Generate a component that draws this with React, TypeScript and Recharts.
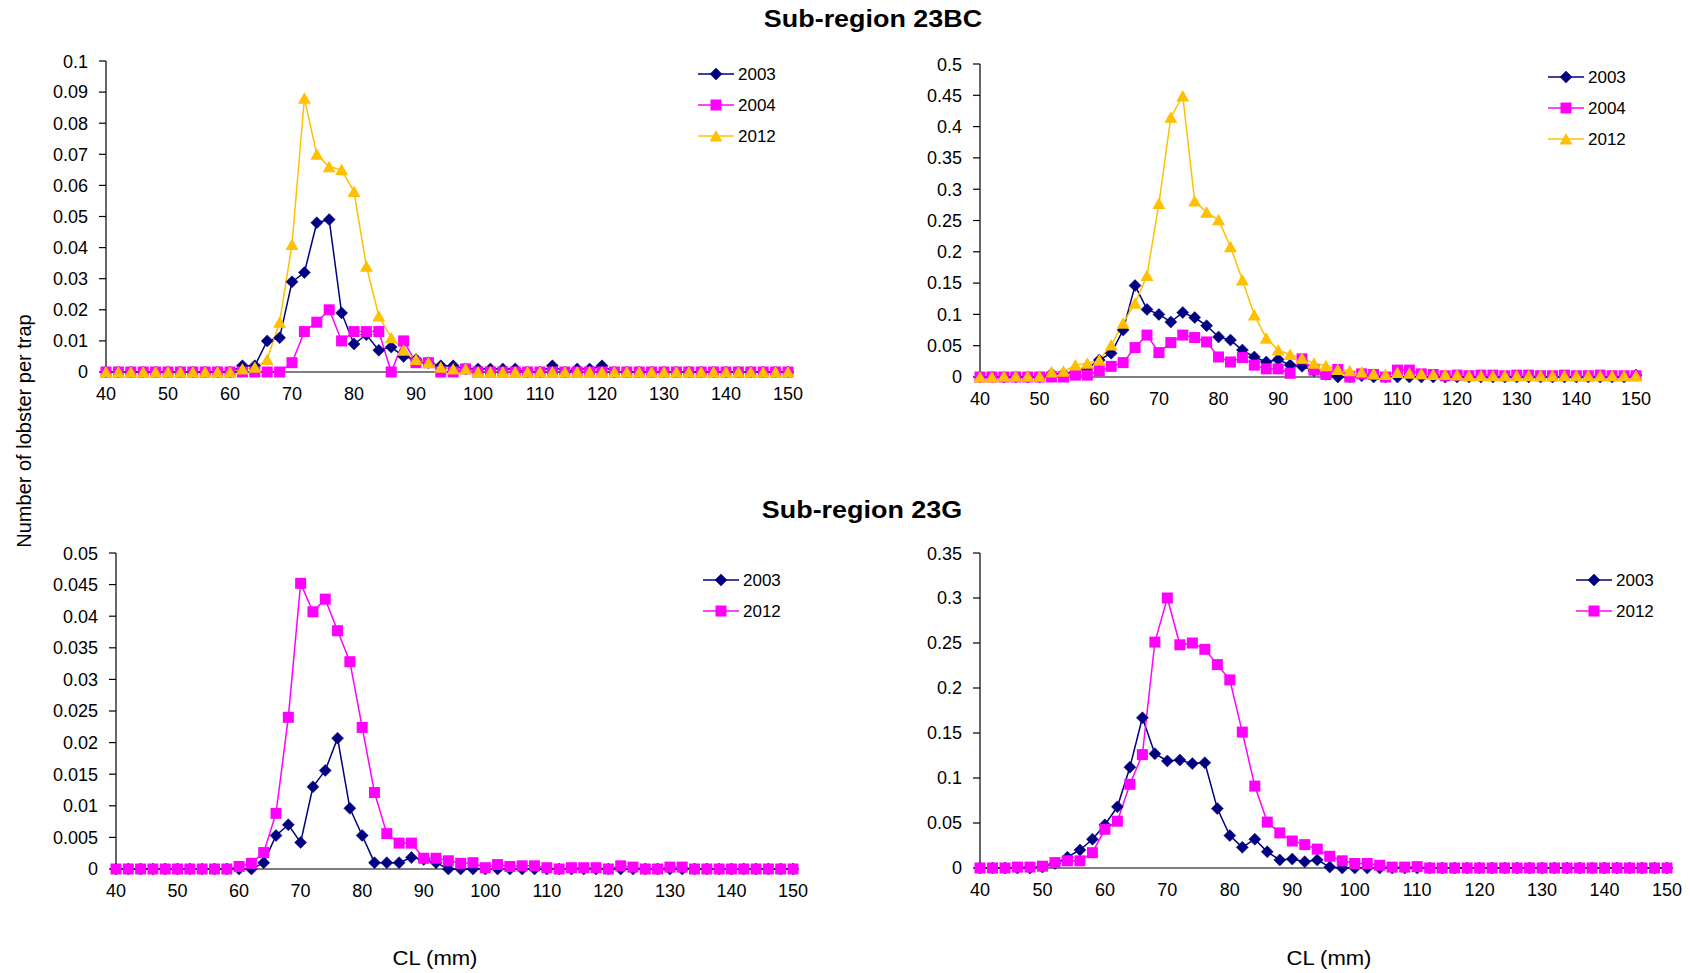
import { LineChart, Line, XAxis, YAxis, Legend } from "recharts";

// carapace length classes (mm)
const CL = [
  40, 42, 44, 46, 48, 50, 52, 54, 56, 58,
  60, 62, 64, 66, 68, 70, 72, 74, 76, 78,
  80, 82, 84, 86, 88, 90, 92, 94, 96, 98,
  100, 102, 104, 106, 108, 110, 112, 114, 116, 118,
  120, 122, 124, 126, 128, 130, 132, 134, 136, 138,
  140, 142, 144, 146, 148, 150,
];

const X_TICKS = [40, 50, 60, 70, 80, 90, 100, 110, 120, 130, 140, 150];

// Sub-region 23BC, left panel
const BC_LEFT_2003 = [
  0, 0, 0, 0, 0, 0, 0, 0, 0, 0,
  0, 0.002, 0.002, 0.01, 0.011, 0.029, 0.032, 0.048, 0.049, 0.019,
  0.009, 0.012, 0.007, 0.008, 0.005, 0.004, 0.003, 0.002, 0.002, 0.001,
  0.001, 0.001, 0.001, 0.001, 0, 0, 0.002, 0, 0.001, 0.001,
  0.002, 0, 0, 0, 0, 0, 0, 0, 0, 0,
  0, 0, 0, 0, 0, 0,
];
const BC_LEFT_2004 = [
  0, 0, 0, 0, 0, 0, 0, 0, 0, 0,
  0, 0, 0, 0, 0, 0.003, 0.013, 0.016, 0.02, 0.01,
  0.013, 0.013, 0.013, 0, 0.01, 0.003, 0.003, 0, 0, 0.001,
  0, 0, 0, 0, 0, 0, 0, 0, 0, 0,
  0, 0, 0, 0, 0, 0, 0, 0, 0, 0,
  0, 0, 0, 0, 0, 0,
];
const BC_LEFT_2012 = [
  0, 0, 0, 0, 0, 0, 0, 0, 0, 0,
  0, 0.001, 0.0015, 0.004, 0.016, 0.041, 0.088, 0.07, 0.066, 0.065,
  0.058, 0.034, 0.018, 0.011, 0.007, 0.004, 0.003, 0.0015, 0.001, 0.001,
  0, 0, 0, 0, 0, 0, 0, 0, 0, 0,
  0, 0, 0, 0, 0, 0, 0, 0, 0, 0,
  0, 0, 0, 0, 0, 0,
];

// Sub-region 23BC, right panel
const BC_RIGHT_2003 = [
  0, 0, 0, 0, 0, 0, 0.005, 0.005, 0.008, 0.014,
  0.027, 0.038, 0.075, 0.146, 0.108, 0.1, 0.088, 0.103, 0.095, 0.082,
  0.064, 0.059, 0.043, 0.032, 0.024, 0.028, 0.019, 0.017, 0.01, 0.004,
  0, 0, 0.002, 0, 0, 0, 0, 0, 0, 0,
  0, 0, 0, 0, 0, 0, 0, 0, 0, 0,
  0, 0, 0, 0, 0, 0.003,
];
const BC_RIGHT_2004 = [
  0, 0, 0, 0, 0, 0, 0, 0, 0.003, 0.003,
  0.01, 0.017, 0.023, 0.047, 0.067, 0.039, 0.055, 0.067, 0.063, 0.056,
  0.032, 0.024, 0.031, 0.019, 0.013, 0.013, 0.006, 0.029, 0.011, 0.004,
  0.012, 0, 0.005, 0.004, 0, 0.011, 0.011, 0.005, 0.004, 0.002,
  0.003, 0.002, 0.003, 0.003, 0.002, 0.003, 0.003, 0.002, 0.002, 0.003,
  0.002, 0.002, 0.003, 0.002, 0.002, 0.002,
];
const BC_RIGHT_2012 = [
  0, 0, 0.001, 0.001, 0.001, 0.001, 0.008, 0.009, 0.019, 0.022,
  0.027, 0.051, 0.086, 0.118, 0.162, 0.277, 0.415, 0.449, 0.281, 0.263,
  0.251, 0.208, 0.155, 0.099, 0.062, 0.043, 0.036, 0.03, 0.022, 0.018,
  0.012, 0.01, 0.008, 0.005, 0.004, 0.007, 0.006, 0.005, 0.004, 0.004,
  0.003, 0.002, 0.002, 0.002, 0.002, 0.002, 0.002, 0.002, 0.002, 0.002,
  0.002, 0.002, 0.002, 0.002, 0.002, 0.002,
];

// Sub-region 23G, left panel
const G_LEFT_2003 = [
  0, 0, 0, 0, 0, 0, 0, 0, 0, 0,
  0, 0, 0.001, 0.0053, 0.007, 0.0042, 0.013, 0.0156, 0.0207, 0.0096,
  0.0053, 0.001, 0.001, 0.001, 0.0018, 0.0015, 0.001, 0, 0, 0,
  0, 0, 0, 0, 0, 0, 0, 0, 0, 0,
  0, 0, 0, 0, 0, 0, 0, 0, 0, 0,
  0, 0, 0, 0, 0, 0,
];
const G_LEFT_2012 = [
  0, 0, 0, 0, 0, 0, 0, 0, 0, 0,
  0.0004, 0.0009, 0.0026, 0.0088, 0.024, 0.0452, 0.0407, 0.0427, 0.0377, 0.0328,
  0.0224, 0.0121, 0.0056, 0.0041, 0.0041, 0.0017, 0.0017, 0.0013, 0.0009, 0.001,
  0.0002, 0.0007, 0.0004, 0.0005, 0.0005, 0.0002, 0, 0.0002, 0.0002, 0.0002,
  0, 0.0005, 0.0003, 0, 0, 0.0003, 0.0003, 0, 0, 0,
  0, 0, 0, 0, 0, 0,
];

// Sub-region 23G, right panel
const G_RIGHT_2003 = [
  0, 0, 0, 0, 0, 0.001, 0.005, 0.012, 0.02, 0.032,
  0.048, 0.068, 0.112, 0.167, 0.127, 0.119, 0.12, 0.116, 0.117, 0.066,
  0.036, 0.023, 0.032, 0.018, 0.009, 0.01, 0.007, 0.009, 0.001, 0,
  0, 0, 0, 0, 0, 0, 0, 0, 0, 0,
  0, 0, 0, 0, 0, 0, 0, 0, 0, 0,
  0, 0, 0, 0, 0, 0,
];
const G_RIGHT_2012 = [
  0, 0, 0, 0.001, 0.001, 0.002, 0.006, 0.008, 0.008, 0.017,
  0.043, 0.052, 0.093, 0.126, 0.251, 0.3, 0.248, 0.25, 0.243, 0.226,
  0.209, 0.151, 0.091, 0.051, 0.039, 0.03, 0.026, 0.021, 0.013, 0.008,
  0.005, 0.005, 0.003, 0.001, 0.001, 0.0015, 0, 0, 0, 0,
  0, 0, 0, 0, 0, 0, 0, 0, 0, 0,
  0, 0, 0, 0, 0, 0,
];

const Y_TICKS_BC_LEFT = [0, 0.01, 0.02, 0.03, 0.04, 0.05, 0.06, 0.07, 0.08, 0.09, 0.1];
const Y_TICKS_BC_RIGHT = [0, 0.05, 0.1, 0.15, 0.2, 0.25, 0.3, 0.35, 0.4, 0.45, 0.5];
const Y_TICKS_G_LEFT = [0, 0.005, 0.01, 0.015, 0.02, 0.025, 0.03, 0.035, 0.04, 0.045, 0.05];
const Y_TICKS_G_RIGHT = [0, 0.05, 0.1, 0.15, 0.2, 0.25, 0.3, 0.35];

const NAVY = "#000080";
const MAGENTA = "#FF00FF";
const GOLD = "#FFC000";
const FONT = "'Liberation Sans', Arial, sans-serif";

type Marker = "diamond" | "square" | "triangle";
type Series = { key: string; name: string; color: string; marker: Marker; values: number[] };

function drawMarker(marker: Marker, color: string, cx: number, cy: number, key?: string) {
  if (cx == null || cy == null || isNaN(cx) || isNaN(cy)) return <g key={key} />;
  if (marker === "diamond") {
    const r = 6;
    return (
      <path key={key} d={`M${cx},${cy - r}L${cx + r},${cy}L${cx},${cy + r}L${cx - r},${cy}Z`} fill={color} stroke={color} strokeWidth={0.5} />
    );
  }
  if (marker === "square") {
    return <rect key={key} x={cx - 5.5} y={cy - 5.5} width={11} height={11} fill={color} />;
  }
  return (
    <path key={key} d={`M${cx},${cy - 6}L${cx + 6.5},${cy + 5.5}L${cx - 6.5},${cy + 5.5}Z`} fill={color} />
  );
}

function legendContent(series: Series[]) {
  return () => (
    <svg width={110} height={series.length * 31} style={{ overflow: "visible", display: "block" }}>
      {series.map((s, i) => {
        const y = 15 + i * 31;
        return (
          <g key={s.key}>
            <line x1={0} x2={36} y1={y} y2={y} stroke={s.color} strokeWidth={1.5} />
            {drawMarker(s.marker, s.color, 18, y)}
            <text x={40} y={y} dy="0.355em" fontSize={17} fill="#000" fontFamily={FONT}>
              {s.name}
            </text>
          </g>
        );
      })}
    </svg>
  );
}

type PanelProps = {
  left: number;
  top: number;
  width: number;
  height: number;
  yMax: number;
  yTicks: number[];
  series: Series[];
  legendLeft: number;
  legendTop: number;
};

function Panel({ left, top, width, height, yMax, yTicks, series, legendLeft, legendTop }: PanelProps) {
  const data = CL.map((cl, i) => {
    const row: Record<string, number> = { cl };
    series.forEach((s) => {
      row[s.key] = s.values[i];
    });
    return row;
  });

  return (
    <div style={{ position: "absolute", left, top }}>
      <LineChart width={width} height={height} data={data} margin={{ top: 10, right: 20, bottom: 0, left: 0 }}>
        <XAxis
          dataKey="cl"
          type="number"
          domain={[40, 150]}
          ticks={X_TICKS}
          height={40}
          axisLine={{ stroke: "#000", strokeWidth: 1.2 }}
          tickLine={false}
          tickSize={6}
          tickMargin={9}
          tick={{ fill: "#000", fontSize: 18 }}
        />
        <YAxis
          type="number"
          domain={[0, yMax]}
          ticks={yTicks}
          width={70}
          axisLine={{ stroke: "#000", strokeWidth: 1.2 }}
          tickLine={{ stroke: "#000", strokeWidth: 1.2 }}
          tickSize={7}
          tickMargin={11}
          tick={{ fill: "#000", fontSize: 18 }}
        />
        <Legend
          layout="vertical"
          align="center"
          verticalAlign="middle"
          content={legendContent(series)}
          wrapperStyle={{ left: legendLeft, top: legendTop, width: 110 }}
        />
        {series.map((s) => (
          <Line
            key={s.key}
            dataKey={s.key}
            name={s.name}
            stroke={s.color}
            strokeWidth={1.5}
            isAnimationActive={false}
            activeDot={false}
            dot={(p: any) => drawMarker(s.marker, s.color, p.cx, p.cy, `${s.key}-${p.index}`)}
          />
        ))}
      </LineChart>
    </div>
  );
}

const title: React.CSSProperties = {
  position: "absolute",
  transform: "translate(-50%, -50%) scaleX(1.17)",
  fontSize: 23,
  fontWeight: "bold",
  lineHeight: 1,
  whiteSpace: "nowrap",
};

const xLabel: React.CSSProperties = {
  position: "absolute",
  top: 957,
  transform: "translate(-50%, -50%) scaleX(1.05)",
  fontSize: 21,
  lineHeight: 1,
  whiteSpace: "nowrap",
};

export default function App() {
  return (
    <div
      style={{
        position: "absolute",
        left: 0,
        top: 0,
        width: 1690,
        height: 973,
        background: "#fff",
        fontFamily: FONT,
        color: "#000",
        overflow: "hidden",
      }}
    >
      <div style={{ ...title, left: 873, top: 19 }}>Sub-region 23BC</div>
      <div style={{ ...title, left: 862, top: 510 }}>Sub-region 23G</div>

      <Panel
        left={36}
        top={51}
        width={772}
        height={361}
        yMax={0.1}
        yTicks={Y_TICKS_BC_LEFT}
        legendLeft={662}
        legendTop={8}
        series={[
          { key: "y2003", name: "2003", color: NAVY, marker: "diamond", values: BC_LEFT_2003 },
          { key: "y2004", name: "2004", color: MAGENTA, marker: "square", values: BC_LEFT_2004 },
          { key: "y2012", name: "2012", color: GOLD, marker: "triangle", values: BC_LEFT_2012 },
        ]}
      />
      <Panel
        left={910}
        top={54}
        width={746}
        height={363}
        yMax={0.5}
        yTicks={Y_TICKS_BC_RIGHT}
        legendLeft={638}
        legendTop={8}
        series={[
          { key: "y2003", name: "2003", color: NAVY, marker: "diamond", values: BC_RIGHT_2003 },
          { key: "y2004", name: "2004", color: MAGENTA, marker: "square", values: BC_RIGHT_2004 },
          { key: "y2012", name: "2012", color: GOLD, marker: "triangle", values: BC_RIGHT_2012 },
        ]}
      />
      <Panel
        left={46}
        top={543}
        width={767}
        height={366}
        yMax={0.05}
        yTicks={Y_TICKS_G_LEFT}
        legendLeft={657}
        legendTop={22}
        series={[
          { key: "y2003", name: "2003", color: NAVY, marker: "diamond", values: G_LEFT_2003 },
          { key: "y2012", name: "2012", color: MAGENTA, marker: "square", values: G_LEFT_2012 },
        ]}
      />
      <Panel
        left={910}
        top={543}
        width={777}
        height={365}
        yMax={0.35}
        yTicks={Y_TICKS_G_RIGHT}
        legendLeft={666}
        legendTop={22}
        series={[
          { key: "y2003", name: "2003", color: NAVY, marker: "diamond", values: G_RIGHT_2003 },
          { key: "y2012", name: "2012", color: MAGENTA, marker: "square", values: G_RIGHT_2012 },
        ]}
      />

      <div
        style={{
          position: "absolute",
          left: 24,
          top: 431,
          transform: "translate(-50%, -50%) rotate(-90deg)",
          fontSize: 20,
          lineHeight: 1,
          whiteSpace: "nowrap",
        }}
      >
        Number of lobster per trap
      </div>
      <div style={{ ...xLabel, left: 435 }}>CL (mm)</div>
      <div style={{ ...xLabel, left: 1329 }}>CL (mm)</div>
    </div>
  );
}
